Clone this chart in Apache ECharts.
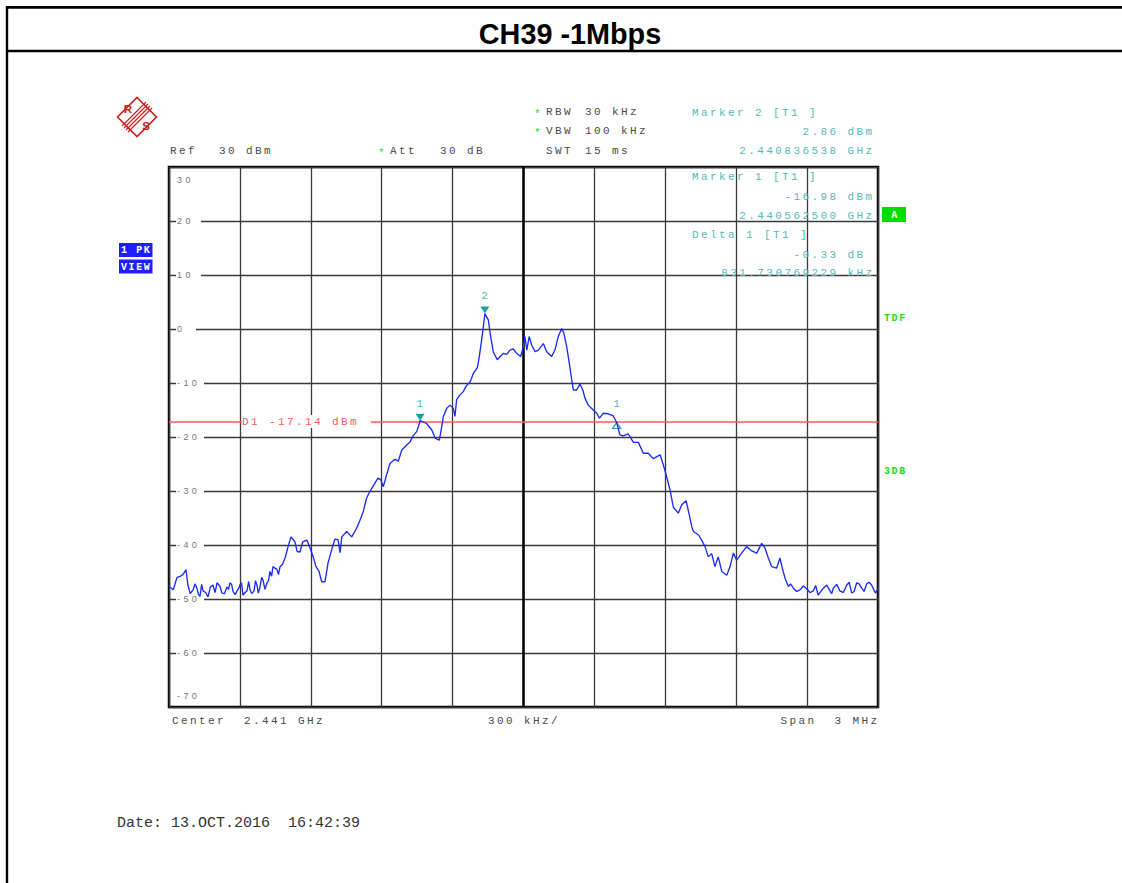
<!DOCTYPE html>
<html>
<head>
<meta charset="utf-8">
<script src="https://cdn.jsdelivr.net/npm/echarts@6/dist/echarts.min.js"></script>
<style>
html, body { margin: 0; padding: 0; background: #fff; }
#chart { width: 1122px; height: 883px; }
#chart text[style*="11px"], #chart text[font-size="11px"], #chart text[font-size="11"] { letter-spacing: 2.4px; }
#chart text[style*="10px"], #chart text[font-size="10px"], #chart text[font-size="10"] { letter-spacing: 1.6px; }
#chart text[style*="9px"], #chart text[font-size="9px"], #chart text[font-size="9"] { letter-spacing: 3.4px; }
</style>
</head>
<body>
<div id="chart"></div>
<script>
// ---- Data ----
// Frequency offset from the 2.441 GHz centre, in kHz
const freqKHz = [
  -1500, -1482, -1466, -1453, -1441, -1428, -1420, -1410, -1398, -1390,
  -1382, -1375, -1369, -1362, -1356, -1345, -1335, -1325, -1314, -1305,
  -1297, -1285, -1276, -1265, -1255, -1248, -1242, -1235, -1229, -1220,
  -1212, -1205, -1200, -1193, -1187, -1178, -1170, -1163, -1157, -1150,
  -1140, -1134, -1128, -1122, -1115, -1108, -1102, -1094, -1085, -1079,
  -1073, -1066, -1060, -1052, -1043, -1037, -1030, -1020, -1009, -996,
  -984, -967, -958, -946, -934, -917, -908, -892, -878, -865,
  -854, -840, -827, -812, -798, -785, -776, -769, -748, -727,
  -706, -692, -678, -664, -650, -628, -616, -604, -593, -582,
  -565, -544, -530, -515, -494, -480, -466, -452, -445, -437.5,
  -410, -388, -374, -356, -346, -339, -325, -311, -297, -290,
  -283, -269, -255, -240, -226, -212, -195, -187, -177, -170,
  -163.46, -149, -139, -128, -111, -99, -85, -71, -57, -43,
  -29, -12, -1, 6, 14, 24, 35, 49, 63, 84,
  98, 119, 133, 147, 162, 171, 183, 194, 204, 211,
  225, 239, 251, 260, 274, 295, 310, 321, 338, 359,
  380, 394.23, 408, 422, 443, 465, 486, 507, 528, 549,
  578, 592, 606, 620, 634, 655, 669, 688, 702, 712,
  719, 740, 754, 768, 782, 796, 810, 824, 839, 860,
  874, 888, 902, 923, 944, 966, 987, 1008, 1022, 1036,
  1050, 1071, 1085, 1097, 1107, 1121, 1130, 1142, 1156, 1170,
  1184, 1198, 1212, 1226, 1236, 1247, 1258, 1269, 1283, 1297,
  1304, 1311, 1325, 1339, 1353, 1368, 1378, 1389, 1399, 1410,
  1420, 1431, 1441, 1452, 1462, 1473, 1482, 1490, 1500
];
// Trace level (1 PK VIEW), dBm
const levelDbm = [
  -47.7, -48.3, -46.0, -45.8, -45.5, -44.6, -47.4, -49.0, -48.3, -47.2,
  -48.0, -49.2, -49.5, -47.3, -48.5, -48.8, -49.6, -47.8, -47.4, -48.8,
  -47.0, -47.6, -48.9, -49.0, -47.8, -48.2, -47.0, -47.3, -48.6, -49.2,
  -48.5, -48.0, -47.4, -47.0, -49.3, -48.8, -48.5, -46.8, -48.3, -49.0,
  -48.5, -46.6, -47.4, -48.9, -47.8, -46.0, -46.5, -48.2, -47.0, -46.6,
  -44.9, -45.8, -44.0, -44.3, -44.5, -45.5, -44.0, -43.6, -42.4, -40.3,
  -38.5, -39.4, -41.2, -41.3, -39.4, -39.1, -40.0, -41.9, -44.0, -44.9,
  -46.8, -46.8, -43.3, -40.9, -38.9, -39.0, -41.4, -38.5, -37.5, -38.5,
  -36.9, -35.4, -33.8, -31.3, -30.1, -28.5, -27.6, -27.9, -29.2, -27.4,
  -24.9, -24.1, -24.5, -22.4, -21.5, -20.9, -19.7, -19.0, -18.1, -16.98,
  -17.5, -18.7, -20.2, -20.6, -18.1, -16.2, -14.7, -14.1, -14.7, -16.2,
  -13.1, -12.2, -11.6, -10.4, -9.8, -8.2, -7.1, -5.1, -2.0, 0.4,
  2.86, 1.7, -1.4, -4.2, -5.7, -5.1, -4.5, -4.7, -3.9, -3.7,
  -4.5, -5.1, -3.3, -1.4, -3.9, -1.4, -3.0, -4.2, -3.9, -2.7,
  -4.2, -5.1, -3.9, -1.4, 0.1, -0.8, -3.3, -6.4, -9.4, -11.3,
  -11.3, -10.2, -11.3, -12.8, -14.1, -15.0, -15.6, -16.5, -15.6, -15.7,
  -16.1, -17.31, -19.6, -19.8, -19.4, -21.0, -21.0, -23.0, -23.0, -24.0,
  -23.3, -25.2, -27.4, -29.8, -33.0, -34.1, -32.6, -31.8, -34.5, -36.6,
  -37.5, -38.1, -39.1, -40.3, -42.2, -41.6, -44.0, -42.2, -44.9, -45.6,
  -44.0, -41.5, -42.8, -41.5, -40.3, -41.1, -41.5, -39.7, -40.6, -42.4,
  -44.0, -44.3, -42.4, -44.6, -46.2, -47.7, -47.2, -48.0, -48.6, -48.3,
  -47.6, -48.1, -48.8, -48.5, -47.5, -49.3, -48.6, -48.0, -47.4, -48.5,
  -49.0, -48.0, -47.3, -48.5, -48.8, -47.4, -46.9, -48.9, -48.6, -47.0,
  -47.2, -48.0, -48.6, -47.2, -46.9, -47.4, -48.3, -48.9, -48.0
];
if (freqKHz.length !== levelDbm.length) console.error('trace arrays differ in length');
const markerNames = ['1', '2'];
const markerFreqKHz = [-437.5, -163.46];
const markerLevelDbm = [-16.98, 2.86];
const deltaName = '1';
const deltaFreqKHz = 831.73;     // relative to marker 1
const deltaLevelDb = -0.33;      // relative to marker 1
const displayLineDbm = -17.14;
const displayLineLabel = 'D1 -17.14 dBm';
const xMin = -1500, xMax = 1500, xStep = 300;
const yMin = -70, yMax = 30, yStep = 10;

const title = 'CH39 -1Mbps';
const markerInfo = [
  ['Marker 2 [T1 ]', '2.86 dBm', '2.440836538 GHz'],
  ['Marker 1 [T1 ]', '-16.98 dBm', '2.440562500 GHz'],
  ['Delta 1 [T1 ]', '-0.33 dB', '831.730769229 kHz']
];
const settings = {
  rbw: ['RBW', '30 kHz'], vbw: ['VBW', '100 kHz'], swt: ['SWT', '15 ms'],
  ref: ['Ref', '30 dBm'], att: ['Att', '30 dB']
};
const footer = ['Center  2.441 GHz', '300 kHz/', 'Span  3 MHz'];
const dateText = 'Date: 13.OCT.2016  16:42:39';

// ---- Drawing ----
const MONO = '"Liberation Mono", "DejaVu Sans Mono", monospace';
const GRAY = '#4a4a4a', TEAL = '#55b9b9', MTEAL = '#17a0a0', GREEN = '#1ed81e', RED = '#ff5a5a';

function txt(text, x, y, fill, font, align) {
  return {
    type: 'text', x: x, y: y, silent: true, z: 100,
    style: { text: text, fill: fill, font: font, align: align || 'left', verticalAlign: 'middle',
             textAlign: align || 'left', textVerticalAlign: 'middle' }
  };
}
function line(x1, y1, x2, y2, color, w) {
  return { type: 'line', silent: true, z: 100, shape: { x1: x1, y1: y1, x2: x2, y2: y2 },
           style: { stroke: color, lineWidth: w } };
}
function rect(x, y, w, h, color) {
  return { type: 'rect', silent: true, z: 100, shape: { x: x, y: y, width: w, height: h }, style: { fill: color } };
}

const F11 = '11px ' + MONO;
const B10 = 'bold 10px ' + MONO;
const graphics = [
  // page frame
  line(7, 7.3, 1122, 7.3, '#000', 2.7),
  line(7, 51, 1122, 51, '#000', 2.4),
  line(7, 6, 7, 883, '#000', 2.4),
  txt(title, 570, 34, '#000', 'bold 28.8px "Liberation Sans", Arial, sans-serif', 'center'),
  // R&S logo
  { type: 'polygon', silent: true, z: 100, shape: { points: [[137, 97.5], [156.5, 117], [137, 136.5], [117.5, 117]] },
    style: { fill: 'none', stroke: '#c81e1e', lineWidth: 1.6 } },
  line(148, 104, 124, 128, '#c81e1e', 1.1),
  line(150, 106, 126, 130, '#c81e1e', 1.1),
  line(146, 102, 122, 126, '#c81e1e', 1.1),
  line(152, 108, 128, 132, '#c81e1e', 1.1),
  txt('R', 128, 109, '#c81e1e', 'bold 11.5px "Liberation Sans", sans-serif', 'center'),
  txt('S', 146, 126, '#c81e1e', 'bold 11.5px "Liberation Sans", sans-serif', 'center'),
  // settings
  txt('*', 538.5, 113.5, GREEN, F11, 'center'),
  txt(settings.rbw[0], 546, 112, GRAY, F11), txt(settings.rbw[1], 585, 112, GRAY, F11),
  txt('*', 538.5, 132.5, GREEN, F11, 'center'),
  txt(settings.vbw[0], 546, 131, GRAY, F11), txt(settings.vbw[1], 585, 131, GRAY, F11),
  txt(settings.swt[0], 546, 151, GRAY, F11), txt(settings.swt[1], 585, 151, GRAY, F11),
  txt(settings.ref[0], 170, 151, GRAY, F11), txt(settings.ref[1], 219, 151, GRAY, F11),
  txt('*', 382.5, 152.5, GREEN, F11, 'center'),
  txt(settings.att[0], 390, 151, GRAY, F11), txt(settings.att[1], 440, 151, GRAY, F11),
  // marker readouts
  txt(markerInfo[0][0], 692, 113, TEAL, F11), txt(markerInfo[0][1], 874.4, 132, TEAL, F11, 'right'),
  txt(markerInfo[0][2], 874.4, 151, TEAL, F11, 'right'),
  txt(markerInfo[1][0], 692, 177, TEAL, F11), txt(markerInfo[1][1], 874.4, 197, TEAL, F11, 'right'),
  txt(markerInfo[1][2], 874.4, 216, TEAL, F11, 'right'),
  txt(markerInfo[2][0], 692, 235, TEAL, F11), txt(markerInfo[2][1], 865.4, 255, TEAL, F11, 'right'),
  txt(markerInfo[2][2], 874.4, 273, TEAL, F11, 'right'),
  // side badges
  rect(119, 243, 33.5, 14, '#1e1eff'), txt('1 PK', 121, 250.5, '#fff', B10),
  rect(119, 259.5, 33.5, 14, '#1e1eff'), txt('VIEW', 121, 267, '#fff', B10),
  rect(882, 207, 24, 15, '#00dd00'), txt('A', 895, 215, '#fff', B10, 'center'),
  txt('TDF', 884, 318, GREEN, B10), txt('3DB', 884, 471, GREEN, B10),
  // footer
  txt(footer[0], 172, 721, GRAY, F11), txt(footer[1], 488, 721, GRAY, F11),
  txt(footer[2], 879.4, 721, GRAY, F11, 'right'),
  txt(dateText, 117, 823, '#333', '15px ' + MONO)
];

const LBL = { fontFamily: 'Liberation Sans', fontSize: 9, color: '#777' };
const chart = echarts.init(document.getElementById('chart'), null, { renderer: 'svg' });
chart.setOption({
  animation: false,
  backgroundColor: '#fff',
  grid: { left: 169, top: 167, width: 709, height: 540, show: true, borderColor: '#000', borderWidth: 2.5,
          backgroundColor: 'transparent', containLabel: false },
  xAxis: {
    type: 'value', min: xMin, max: xMax, interval: xStep,
    axisLine: { show: false }, axisTick: { show: false }, axisLabel: { show: false },
    splitLine: { show: true, lineStyle: { color: '#3a3a3a', width: 1.3 } }
  },
  yAxis: {
    type: 'value', min: yMin, max: yMax, interval: yStep,
    axisLine: { show: false }, axisTick: { show: false },
    splitLine: { show: true, lineStyle: { color: '#3a3a3a', width: 1.3 } },
    axisLabel: {
      inside: true, margin: 7, align: 'left', showMinLabel: true, showMaxLabel: true,
      formatter: function (v) {
        const s = String(v);
        if (v === yMax) return '{top|' + s + '}';
        if (v === yMin) return '{bot|' + s + '}';
        return '{n|' + s + '}';
      },
      rich: {
        n: Object.assign({ backgroundColor: '#fff', padding: [1, 14, 1, 1] }, LBL),
        top: Object.assign({ padding: [26, 0, 0, 1] }, LBL),
        bot: Object.assign({ padding: [0, 0, 22, 1] }, LBL)
      }
    }
  },
  series: [{
    type: 'line',
    data: freqKHz.map(function (f, i) { return [f, levelDbm[i]]; }),
    showSymbol: false, symbol: 'none',
    lineStyle: { color: '#1a2cf5', width: 1.35 },
    z: 5,
    markLine: {
      silent: true, symbol: ['none', 'none'], animation: false,
      label: { show: false },
      data: [
        { xAxis: 0, lineStyle: { color: '#000', width: 2.5, type: 'solid' } },
        { yAxis: displayLineDbm, lineStyle: { color: RED, width: 1.5, type: 'solid' },
          label: { show: true, position: 'insideStart', formatter: displayLineLabel, distance: [73, 0],
                   color: RED, fontFamily: 'Liberation Mono', fontSize: 11,
                   backgroundColor: '#fff', padding: [1, 43, 1, 0] } }
      ]
    },
    markPoint: {
      silent: true, animation: false,
      data: [
        { coord: [markerFreqKHz[0], markerLevelDbm[0]], symbol: 'path://M0,0L10,0L5,8Z', symbolSize: [9, 7],
          symbolOffset: [0, -3.5], itemStyle: { color: MTEAL },
          label: { show: true, formatter: markerNames[0], position: 'inside', offset: [1, -13.5],
                   color: TEAL, fontFamily: 'Liberation Mono', fontSize: 11 } },
        { coord: [markerFreqKHz[1], markerLevelDbm[1]], symbol: 'path://M0,0L10,0L5,8Z', symbolSize: [9, 7],
          symbolOffset: [0, -3.5], itemStyle: { color: MTEAL },
          label: { show: true, formatter: markerNames[1], position: 'inside', offset: [1, -14],
                   color: TEAL, fontFamily: 'Liberation Mono', fontSize: 11 } },
        { coord: [markerFreqKHz[0] + deltaFreqKHz, markerLevelDbm[0] + deltaLevelDb],
          symbol: 'path://M5,0L10,8L0,8Z', symbolSize: [8, 6],
          symbolOffset: [0, 3], itemStyle: { color: 'rgba(255,255,255,0)', borderColor: MTEAL, borderWidth: 1.2 },
          label: { show: true, formatter: deltaName, position: 'inside', offset: [1, -21],
                   color: TEAL, fontFamily: 'Liberation Mono', fontSize: 11 } }
      ]
    }
  }],
  graphic: { elements: graphics }
});
</script>
</body>
</html>
